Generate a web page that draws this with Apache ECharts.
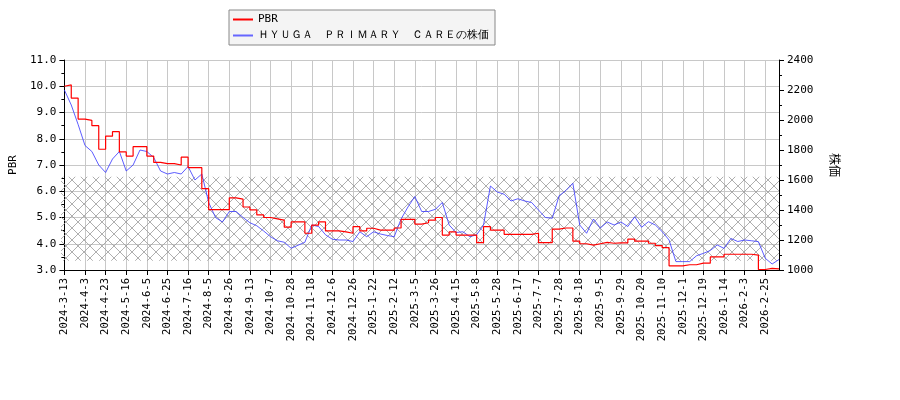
<!DOCTYPE html>
<html><head><meta charset="utf-8">
<script src="https://cdn.jsdelivr.net/npm/echarts@6/dist/echarts.min.js"></script>
<style>html,body{margin:0;padding:0;background:#fff}#c{width:900px;height:400px}</style>
</head><body><div id="c"></div>
<script>
const tickLabels = ['2024-3-13','2024-4-3','2024-4-23','2024-5-16','2024-6-5','2024-6-25','2024-7-16','2024-8-5','2024-8-26','2024-9-13','2024-10-7','2024-10-28','2024-11-18','2024-12-6','2024-12-26','2025-1-22','2025-2-12','2025-3-5','2025-3-26','2025-4-15','2025-5-8','2025-5-28','2025-6-17','2025-7-7','2025-7-28','2025-8-18','2025-9-5','2025-9-29','2025-10-20','2025-11-10','2025-12-1','2025-12-19','2026-1-14','2026-2-3','2026-2-25'];
const price = [2200,2100,1970,1830,1790,1700,1650,1740,1790,1660,1700,1800,1790,1750,1660,1640,1650,1640,1690,1600,1640,1450,1350,1320,1390,1390,1350,1315,1295,1260,1222,1195,1185,1145,1165,1185,1300,1290,1235,1205,1200,1200,1190,1255,1222,1255,1240,1230,1222,1340,1420,1490,1390,1390,1405,1450,1300,1250,1255,1222,1235,1300,1560,1520,1505,1460,1475,1460,1450,1400,1350,1345,1495,1530,1578,1300,1245,1340,1280,1320,1300,1320,1290,1355,1285,1322,1300,1256,1200,1056,1056,1056,1095,1111,1130,1167,1144,1210,1190,1200,1195,1189,1078,1040,1070];
const pbr = [10.0,10.05,9.55,8.75,8.7,8.5,7.6,8.1,8.27,7.5,7.34,7.7,7.7,7.34,7.1,7.05,7.05,7.0,7.3,6.9,6.9,6.1,5.3,5.3,5.3,5.75,5.7,5.4,5.29,5.1,5.0,4.95,4.9,4.63,4.83,4.83,4.4,4.71,4.83,4.49,4.49,4.45,4.4,4.65,4.49,4.59,4.52,4.52,4.52,4.6,4.93,4.93,4.75,4.8,4.9,5.0,4.33,4.45,4.33,4.33,4.33,4.04,4.65,4.52,4.52,4.36,4.36,4.36,4.36,4.4,4.04,4.04,4.56,4.6,4.6,4.1,4.0,3.95,4.0,4.05,4.02,4.03,4.03,4.18,4.1,4.1,4.02,3.93,3.85,3.16,3.16,3.2,3.2,3.26,3.26,3.5,3.5,3.6,3.6,3.6,3.6,3.57,3.02,3.06,3.04];
const band = [3.35, 6.55];

const cats = price.map((_, i) => i % 3 === 0 && tickLabels[i / 3] ? tickLabels[i / 3] : 'w' + i);

const cv = document.createElement('canvas');
cv.width = 12; cv.height = 12;
const g = cv.getContext('2d');
g.strokeStyle = '#9a9a9a'; g.lineWidth = 0.8;
g.beginPath(); g.moveTo(0,0); g.lineTo(12,12); g.moveTo(12,0); g.lineTo(0,12); g.stroke();

const font = 'DejaVu Sans Mono';
const chart = echarts.init(document.getElementById('c'));
chart.setOption({
  animation: false,
  textStyle: {fontFamily: font},
  legend: {
    left: 229, top: 10, orient: 'vertical', itemGap: 5, itemWidth: 20, itemHeight: 2,
    backgroundColor: '#f4f4f4', borderColor: '#888', borderWidth: 1, borderRadius: 0,
    padding: [4, 6, 4, 4],
    textStyle: {fontFamily: font, fontSize: 11, color: '#000'},
    data: [{name: 'PBR', icon: 'rect'}, {name: 'ＨＹＵＧＡ　ＰＲＩＭＡＲＹ　ＣＡＲＥの株価', icon: 'rect'}]
  },
  grid: {left: 61, right: 121, top: 60, bottom: 130},
  xAxis: {
    type: 'category', data: cats, boundaryGap: false,
    axisLine: {lineStyle: {color: '#000'}},
    axisTick: {interval: 2, lineStyle: {color: '#000'}},
    axisLabel: {interval: 2, rotate: 90, fontSize: 10.5, color: '#000', fontFamily: font,
      formatter: v => v.startsWith('w') ? '' : v},
    splitLine: {show: true, interval: 2, lineStyle: {color: '#c8c8c8'}}
  },
  yAxis: [{
    type: 'value', min: 3, max: 11, interval: 1, name: 'PBR', nameLocation: 'middle', nameGap: 34,
    nameTextStyle: {fontSize: 11, color: '#000'},
    axisLine: {show: true, lineStyle: {color: '#000'}},
    axisTick: {show: true}, minorTick: {show: true, splitNumber: 2, lineStyle: {color: '#000'}},
    axisLabel: {fontSize: 11, color: '#000', formatter: v => v.toFixed(1)},
    splitLine: {lineStyle: {color: '#c8c8c8'}}
  }, {
    type: 'value', min: 1000, max: 2400, interval: 200, name: '株価', nameLocation: 'middle', nameGap: 50,
    nameRotate: -90, nameTextStyle: {fontSize: 12, color: '#000', fontFamily: 'Noto Sans CJK JP'},
    axisLine: {show: true, lineStyle: {color: '#000'}},
    axisTick: {show: true}, minorTick: {show: true, splitNumber: 2, lineStyle: {color: '#000'}},
    axisLabel: {fontSize: 11, color: '#000', formatter: v => String(v)},
    splitLine: {show: false}
  }],
  series: [{
    name: 'PBR', type: 'line', yAxisIndex: 0, data: pbr, step: 'start', showSymbol: false,
    lineStyle: {color: '#ff0000', width: 1.2}, itemStyle: {color: '#ff0000'}, z: 3,
    markArea: {silent: true, itemStyle: {color: {image: cv, repeat: 'repeat'}},
      data: [[{yAxis: band[0], x: 61}, {yAxis: band[1], x: 779}]]}
  }, {
    name: 'ＨＹＵＧＡ　ＰＲＩＭＡＲＹ　ＣＡＲＥの株価', type: 'line', yAxisIndex: 1, data: price, showSymbol: false,
    lineStyle: {color: '#3333ff', width: 0.8}, itemStyle: {color: '#6666ff'}, z: 2
  }]
});
</script></body></html>
